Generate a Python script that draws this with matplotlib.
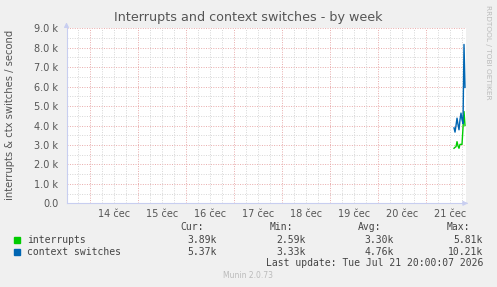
import numpy as np
import matplotlib
matplotlib.use("Agg")
import matplotlib.pyplot as plt
from matplotlib.patches import Rectangle

# --- data (hours relative to Jul 21 00:00, values per second) ---
hours = [14.0, 14.5, 15.0, 15.5, 16.0, 16.5, 17.0, 17.5, 18.0, 18.5, 19.0, 19.5]
interrupts = [2830, 2880, 2910, 3170, 2950, 2830, 3030, 3030, 3030, 3880, 4720, 4000]
ctx_switches = [3880, 3660, 4000, 4380, 4050, 3780, 4300, 4640, 4300, 4100, 8170, 5960]

day_labels = ["14 čec", "15 čec", "16 čec", "17 čec", "18 čec", "19 čec", "20 čec", "21 čec"]
day_centers = [-156, -132, -108, -84, -60, -36, -12, 12]

legend_names = ["interrupts", "context switches"]
legend_colors = ["#00CC00", "#0066B3"]
stats_cur = ["3.89k", "5.37k"]
stats_min = ["2.59k", "3.33k"]
stats_avg = ["3.30k", "4.76k"]
stats_max = ["5.81k", "10.21k"]

W, H = 497, 287
fig = plt.figure(figsize=(W / 100, H / 100), dpi=100, facecolor="#F0F0F0")

x0, x1, y0, y1 = 66.5, 466, 203.3, 28.3
ax = fig.add_axes([x0 / W, 1 - y0 / H, (x1 - x0) / W, (y0 - y1) / H])
ax.set_facecolor("white")
ax.set_xlim(-180, 20)
ax.set_ylim(0, 9000)

# grid: gray minor, red major, both dotted
minor_c, major_c = "#D6D6D6", "#E8AAAA"
for v in np.arange(500, 9001, 1000):
    ax.axhline(v, color=minor_c, lw=0.7, ls=(0, (1, 1.5)), zorder=1)
for v in np.arange(1000, 9001, 1000):
    ax.axhline(v, color=major_c, lw=0.7, ls=(0, (1, 1.5)), zorder=1)
for h in np.arange(-174, 20, 6):
    if h % 24 != 0:
        ax.axvline(h, color=minor_c, lw=0.7, ls=(0, (1, 1.5)), zorder=1)
for h in np.arange(-168, 1, 24):
    ax.axvline(h, color=major_c, lw=0.7, ls=(0, (1, 1.5)), zorder=1)

ax.plot(hours, interrupts, color=legend_colors[0], lw=1.0, zorder=3)
ax.plot(hours, ctx_switches, color=legend_colors[1], lw=1.0, zorder=4)

# axes look
for s in ["top", "right"]:
    ax.spines[s].set_visible(False)
for s in ["left", "bottom"]:
    ax.spines[s].set_color("#C8CEF0")
    ax.spines[s].set_linewidth(0.8)
ax.set_yticks(np.arange(0, 9001, 1000))
ax.set_yticklabels(["0.0"] + [f"{v / 1000:.1f} k" for v in range(1000, 9001, 1000)])
ax.set_xticks(day_centers)
ax.set_xticklabels(day_labels)
ax.tick_params(axis="both", length=0, labelsize=7, labelcolor="#555555")
ax.tick_params(axis="y", pad=6)
ax.tick_params(axis="x", pad=4)

# axis arrows
ax.annotate("", xy=(1.012, 0), xytext=(0.995, 0), xycoords="axes fraction",
            arrowprops=dict(arrowstyle="-|>", color="#C8CEF0", lw=0.8, mutation_scale=7),
            annotation_clip=False)
ax.annotate("", xy=(0, 1.05), xytext=(0, 0.99), xycoords="axes fraction",
            arrowprops=dict(arrowstyle="-|>", color="#C8CEF0", lw=0.8, mutation_scale=7),
            annotation_clip=False)

fig.text(248 / W, 1 - 18 / H, "Interrupts and context switches - by week",
         ha="center", va="center", fontsize=9.2, color="#555555")
fig.text(10 / W, 1 - 115 / H, "interrupts & ctx switches / second", rotation=90,
         ha="center", va="center", fontsize=7.2, color="#555555")
fig.text(488 / W, 1 - 5 / H, "RRDTOOL / TOBI OETIKER", rotation=270,
         ha="center", va="top", fontsize=5.3, color="#BBBBBB")

# legend block
mono = dict(family="DejaVu Sans Mono", fontsize=7, color="#444444", va="center")
for txt, xr in zip(["Cur:", "Min:", "Avg:", "Max:"], [204, 293, 381, 470]):
    fig.text(xr / W, 1 - 227 / H, txt, ha="right", **mono)
rows_y = [240, 252]
for i in range(2):
    yy = rows_y[i]
    fig.patches.append(Rectangle((14 / W, 1 - (yy + 3) / H), 6 / W, 6 / H,
                                 transform=fig.transFigure, color=legend_colors[i]))
    fig.text(27 / W, 1 - yy / H, legend_names[i], ha="left", **mono)
    for val, xr in zip([stats_cur[i], stats_min[i], stats_avg[i], stats_max[i]],
                       [217, 306, 394, 483]):
        fig.text(xr / W, 1 - yy / H, val, ha="right", **mono)
fig.text(483 / W, 1 - 263 / H, "Last update: Tue Jul 21 20:00:07 2026", ha="right", **mono)
fig.text(248 / W, 1 - 276 / H, "Munin 2.0.73", ha="center", va="center",
         fontsize=5.5, color="#BBBBBB")

fig.savefig("out.png", dpi=100, facecolor=fig.get_facecolor())
